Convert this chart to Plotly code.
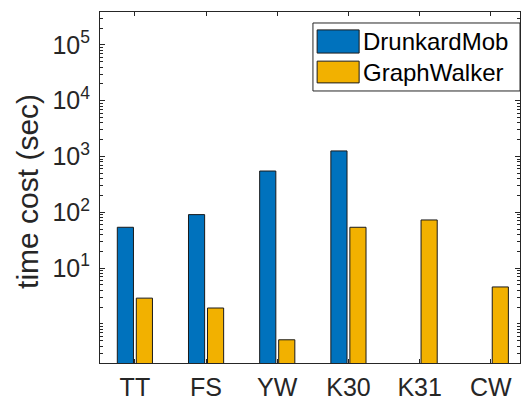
import plotly.graph_objects as go
import numpy as np

categories = ["TT", "FS", "YW", "K30", "K31", "CW"]
drunkard = [54, 91, 550, 1260, None, None]
graphwalker = [2.9, 1.93, 0.52, 54, 73, 4.6]
series_names = ["DrunkardMob", "GraphWalker"]
ytick_vals = [10, 100, 1000, 10000, 100000]
ytick_text = ["10<sup>%d</sup>" % int(np.log10(v)) for v in ytick_vals]
minor_vals = [m * 10.0 ** e for e in range(-1, 6) for m in range(2, 10)] + [1.0]

BLUE = "#0072BD"
ORANGE = "#F2B100"
AX = "#262626"
FONT = "Liberation Sans, Arial, sans-serif"

fig = go.Figure()
for name, vals, col in [(series_names[0], drunkard, BLUE), (series_names[1], graphwalker, ORANGE)]:
    fig.add_trace(go.Bar(x=categories, y=vals, name=name, showlegend=False,
                         marker=dict(color=col, line=dict(color="#1a1a1a", width=1))))

fig.update_layout(
    width=526, height=403,
    margin=dict(l=100, r=6, t=12, b=40),
    paper_bgcolor="white", plot_bgcolor="white",
    barmode="group", bargap=0.466, bargroupgap=0.15,
    font=dict(family=FONT, size=25, color=AX),
)
fig.update_xaxes(
    type="category", range=[-0.49, 5.41], automargin=False,
    showline=True, linecolor=AX, linewidth=1, mirror="ticks",
    ticks="inside", ticklen=4, tickcolor=AX,
    tickfont=dict(size=25, color=AX), ticklabelstandoff=2,
    showgrid=False, zeroline=False,
)
fig.update_yaxes(
    type="log", range=[-0.70, 5.59], automargin=False,
    tickmode="array", tickvals=ytick_vals, ticktext=ytick_text,
    showline=True, linecolor=AX, linewidth=1, mirror="ticks",
    ticks="inside", ticklen=5, tickcolor=AX,
    minor=dict(ticks="inside", ticklen=3, tickcolor=AX, tickmode="array",
               tickvals=minor_vals, showgrid=False),
    tickfont=dict(size=25, color=AX), ticklabelstandoff=4,
    showgrid=False, zeroline=False,
)

# y-axis title
fig.add_annotation(xref="paper", yref="paper", x=-0.174, y=0.49, text="time cost (sec)",
                   textangle=-90, showarrow=False, font=dict(size=30, color=AX, family=FONT),
                   xanchor="center", yanchor="middle")

# legend box (custom, larger swatches like the reference)
fig.add_shape(type="rect", xref="paper", yref="paper", x0=0.507, x1=1.0, y0=0.775, y1=0.9687,
              line=dict(color=AX, width=1), fillcolor="white", layer="above")
legend_rows = [(0.883, 0.949, 0.916), (0.798, 0.860, 0.829)]
for (y0, y1, yc), name, col in zip(legend_rows, series_names, [BLUE, ORANGE]):
    fig.add_shape(type="rect", xref="paper", yref="paper", x0=0.517, x1=0.617, y0=y0, y1=y1,
                  line=dict(color="#1a1a1a", width=1), fillcolor=col, layer="above")
    fig.add_annotation(xref="paper", yref="paper", x=0.621, y=yc, text=name, showarrow=False,
                       xanchor="left", yanchor="middle", font=dict(size=24, color="#000", family=FONT))

fig.write_html("out.html")
